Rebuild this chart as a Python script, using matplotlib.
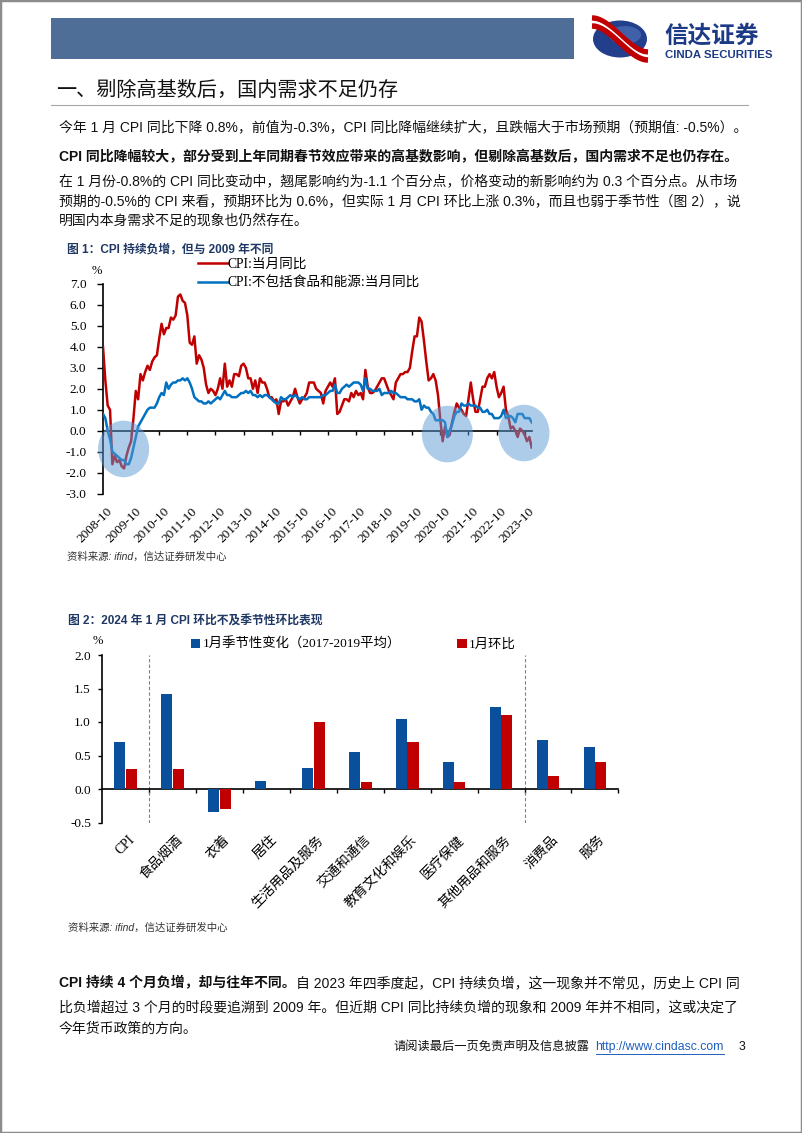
import numpy as np
import matplotlib.pyplot as plt
from matplotlib.patches import Rectangle, Ellipse
from matplotlib.lines import Line2D

W, H = 802, 1133

SANS = ['Liberation Sans', 'Noto Sans CJK SC']
SERIF = ['Liberation Serif', 'Noto Sans CJK SC']
TEXT_C = '#111111'
TITLE_C = '#1f3864'
RED = '#c00000'
BLUE_LINE = '#0070c0'
BLUE_BAR = '#0a4f9c'

# ---- figure 1 data: monthly CPI yoy, 2008-10 .. 2024-01 ----
cpi_yoy = [
    4.0, 2.4, 1.2,
    1.0, -1.6, -1.2, -1.5, -1.4, -1.7, -1.8, -1.2, -0.8, -0.5, 0.6, 1.9,
    1.5, 2.7, 2.4, 2.8, 3.1, 2.9, 3.3, 3.5, 3.6, 4.4, 5.1, 4.6,
    4.9, 4.9, 5.4, 5.3, 5.5, 6.4, 6.5, 6.2, 6.1, 5.5, 4.2, 4.1,
    4.5, 3.2, 3.6, 3.4, 3.0, 2.2, 1.8, 2.0, 1.9, 1.7, 2.0, 2.5,
    2.0, 3.2, 2.1, 2.4, 2.1, 2.7, 2.7, 2.6, 3.1, 3.2, 3.0, 2.5,
    2.5, 2.0, 2.4, 1.8, 2.5, 2.3, 2.3, 2.0, 1.6, 1.6, 1.4, 1.5,
    0.8, 1.4, 1.4, 1.5, 1.2, 1.4, 1.6, 2.0, 1.6, 1.3, 1.5, 1.6,
    1.8, 2.3, 2.3, 2.3, 2.0, 1.9, 1.8, 1.3, 1.9, 2.1, 2.3, 2.1,
    2.5, 0.8, 0.9, 1.2, 1.5, 1.5, 1.4, 1.8, 1.6, 1.9, 1.7, 1.8,
    1.5, 2.9, 2.1, 1.8, 1.8, 1.9, 2.1, 2.3, 2.5, 2.5, 2.2, 1.9,
    1.7, 1.5, 2.3, 2.5, 2.7, 2.7, 2.8, 2.8, 3.0, 3.8, 4.5, 4.5,
    5.4, 5.2, 4.3, 3.3, 2.4, 2.5, 2.7, 2.4, 1.7, 0.5, -0.5, 0.2,
    -0.3, -0.2, 0.4, 0.9, 1.3, 1.1, 1.0, 0.8, 0.7, 1.5, 2.3, 1.5,
    0.9, 0.9, 1.5, 2.1, 2.1, 2.5, 2.7, 2.5, 2.8, 2.1, 1.6, 1.8,
    2.1, 1.0, 0.7, 0.1, 0.2, 0.0, -0.3, 0.1, 0.0, -0.2, -0.5, -0.3,
    -0.8,
]
core_yoy = [
    0.8, 0.6, 0.0,
    -0.4, -1.0, -1.1, -1.2, -1.3, -1.4, -1.4, -1.6, -1.6, -1.3, -0.8, -0.3,
    0.2, 0.4, 0.6, 0.8, 1.0, 1.1, 1.1, 1.1, 1.3, 1.6, 1.8, 1.7,
    2.3, 2.0, 2.2, 2.3, 2.3, 2.4, 2.4, 2.5, 2.4, 2.5, 2.3, 2.0,
    1.6, 1.5, 1.4, 1.4, 1.3, 1.3, 1.4, 1.3, 1.4, 1.5, 1.6, 1.5,
    1.7, 1.9, 1.7, 1.7, 1.6, 1.6, 1.6, 1.7, 1.8, 1.8, 1.9, 1.8,
    1.9, 1.7, 1.7, 1.6, 1.7, 1.6, 1.7, 1.7, 1.6, 1.5, 1.4, 1.3,
    1.3, 1.6, 1.5, 1.5, 1.6, 1.7, 1.6, 1.7, 1.6, 1.5, 1.6, 1.5,
    1.5, 1.6, 1.6, 1.6, 1.6, 1.6, 1.6, 1.7, 1.7, 1.8, 1.9, 1.9,
    2.2, 1.8, 1.8, 2.0, 2.1, 2.2, 2.1, 2.2, 2.3, 2.3, 2.3, 2.2,
    1.9, 2.5, 2.0, 2.0, 1.9, 1.9, 1.9, 2.0, 1.7, 1.8, 1.8, 1.8,
    1.9, 1.8, 1.8, 1.7, 1.6, 1.6, 1.6, 1.5, 1.5, 1.5, 1.4, 1.4,
    1.5, 1.0, 1.2, 1.1, 1.1, 0.9, 0.8, 0.5, 0.5, 0.5, 0.5, 0.4,
    -0.3, 0.0, 0.3, 0.7, 0.9, 0.9, 1.3, 1.2, 1.2, 1.3, 1.2, 1.2,
    1.2, 1.1, 1.1, 0.9, 0.9, 1.0, 0.8, 0.8, 0.6, 0.6, 0.6, 0.7,
    1.0, 0.6, 0.7, 0.7, 0.6, 0.4, 0.8, 0.8, 0.8, 0.6, 0.6, 0.6,
    0.4,
]
line_ticklabels = ['2008-10', '2009-10', '2010-10', '2011-10', '2012-10', '2013-10',
                   '2014-10', '2015-10', '2016-10', '2017-10', '2018-10', '2019-10',
                   '2020-10', '2021-10', '2022-10', '2023-10']
line_labels = ['CPI:当月同比', 'CPI:不包括食品和能源:当月同比']
# highlighted periods (month index of centre)
highlight_months = [8.8, 147.0, 179.7]
highlight_y = [-0.87, -0.16, -0.11]

# ---- figure 2 data ----
categories = ['CPI', '食品烟酒', '衣着', '居住', '生活用品及服务', '交通和通信',
              '教育文化和娱乐', '医疗保健', '其他用品和服务', '消费品', '服务']
seasonal = [0.70, 1.42, -0.35, 0.12, 0.31, 0.55, 1.05, 0.41, 1.22, 0.73, 0.63]
jan_mom = [0.30, 0.30, -0.30, 0.00, 1.00, 0.10, 0.70, 0.10, 1.10, 0.20, 0.40]
bar_labels = ['1月季节性变化（2017-2019平均）', '1月环比']


def fx(x):
    return x / W


def fy(y):
    return 1 - y / H


def axes_px(fig, left, top, right, bottom):
    return fig.add_axes([left / W, 1 - bottom / H, (right - left) / W, (bottom - top) / H])


fig = plt.figure(figsize=(W / 100, H / 100), dpi=100)
fig.patch.set_facecolor('white')

# page frame and header
fig.add_artist(Rectangle((0, 0), 1, 1, transform=fig.transFigure, fill=False,
                         ec='#8c8c8c', lw=2.5))
fig.add_artist(Rectangle((fx(51), fy(59)), (574 - 51) / W, 41 / H,
                         transform=fig.transFigure, fc='#4e6e98', ec='none'))

# logo
fig.add_artist(Ellipse((fx(620), fy(39)), 54 / W, 37 / H, transform=fig.transFigure,
                       fc='#233f8c', ec='none'))
fig.add_artist(Ellipse((fx(625), fy(35)), 32 / W, 18 / H, transform=fig.transFigure,
                       fc='#5a7cc4', ec='none', alpha=0.55))
t = np.linspace(0, 1, 40)
for off, col, w in [(-4, RED, 4.0), (0, 'white', 1.8), (4, RED, 4.0)]:
    sx = 592 + 56 * t
    sy = 22 + 34 * (3 * t ** 2 - 2 * t ** 3) + off
    fig.add_artist(Line2D(fx(sx), fy(sy), transform=fig.transFigure, color=col,
                          lw=w, solid_capstyle='butt'))
fig.text(fx(664), fy(43), '信达证券', fontsize=17, weight='bold', color='#1c3a86',
         family=SANS, va='baseline', ha='left')
fig.text(fx(665), fy(57.5), 'CINDA SECURITIES', fontsize=8.2, weight='bold', color='#1c3a86',
         family=SANS, va='baseline', ha='left')

# section title
fig.text(fx(56), fy(90), '一、剔除高基数后，国内需求不足仍存', fontsize=14.5,
         family=SANS, color=TEXT_C, va='center')
fig.add_artist(Line2D([fx(51), fx(748)], [fy(105), fy(105)], transform=fig.transFigure,
                      color='#a6a6a6', lw=0.8))

BODY = 10.0
fig.text(fx(59), fy(127), '今年 1 月 CPI 同比下降 0.8%，前值为-0.3%，CPI 同比降幅继续扩大，且跌幅大于市场预期（预期值: -0.5%）。',
         fontsize=BODY, family=SANS, color=TEXT_C, va='center')
fig.text(fx(59), fy(157), 'CPI 同比降幅较大，部分受到上年同期春节效应带来的高基数影响，但剔除高基数后，国内需求不足也仍存在。',
         fontsize=BODY, family=SANS, color=TEXT_C, va='center', weight='bold')
fig.text(fx(59), fy(181), '在 1 月份-0.8%的 CPI 同比变动中，翘尾影响约为-1.1 个百分点，价格变动的新影响约为 0.3 个百分点。从市场',
         fontsize=BODY, family=SANS, color=TEXT_C, va='center')
fig.text(fx(59), fy(201), '预期的-0.5%的 CPI 来看，预期环比为 0.6%，但实际 1 月 CPI 环比上涨 0.3%，而且也弱于季节性（图 2），说',
         fontsize=BODY, family=SANS, color=TEXT_C, va='center')
fig.text(fx(59), fy(221), '明国内本身需求不足的现象也仍然存在。',
         fontsize=BODY, family=SANS, color=TEXT_C, va='center')

# ---------------- figure 1 ----------------
fig.text(fx(67), fy(250), '图 1：CPI 持续负增，但与 2009 年不同', fontsize=8.5, weight='bold',
         family=SANS, color=TITLE_C, va='center')
ax1 = axes_px(fig, 103, 284, 531.7, 493.6)
x = np.arange(len(cpi_yoy))
l1, = ax1.plot(x, cpi_yoy, color=RED, lw=1.8, zorder=3)
l2, = ax1.plot(x, core_yoy, color=BLUE_LINE, lw=1.8, zorder=3)
for cx, cy in zip(highlight_months, highlight_y):
    ax1.add_patch(Ellipse((cx, cy), 21.8, 2.7, fc='#5b9bd5', ec='none', alpha=0.5,
                          zorder=4, clip_on=False))
ax1.set_xlim(0, len(cpi_yoy) - 1)
ax1.set_ylim(-3, 7)
ax1.set_yticks(np.arange(-3, 7.1, 1))
ax1.set_yticklabels([f'{v:.1f}' for v in np.arange(-3, 7.1, 1)], family=SERIF, fontsize=9.5)
tick_idx = np.arange(0, len(cpi_yoy), 12)
ax1.set_xticks(tick_idx)
ax1.tick_params(axis='x', labelbottom=False, direction='out', length=3, width=1)
ax1.tick_params(axis='y', direction='out', length=4, width=1, pad=8)
for s in ['top', 'right']:
    ax1.spines[s].set_visible(False)
ax1.spines['bottom'].set_position(('data', 0))
ax1.spines['bottom'].set_linewidth(1.2)
ax1.spines['left'].set_linewidth(1.2)
for ti, lab in zip(tick_idx, line_ticklabels):
    ax1.text(ti + 1.6, -3.55, lab, rotation=45, ha='right', va='top', rotation_mode='anchor',
             family=SERIF, fontsize=9.5)
ax1.legend([l1, l2], line_labels, loc='upper left', bbox_to_anchor=(fx(198), fy(258)),
           bbox_transform=fig.transFigure, frameon=False, prop={'family': SERIF, 'size': 9.8},
           handlelength=2.2, handletextpad=0.0, borderpad=0, borderaxespad=0, labelspacing=0.45)
fig.text(fx(97), fy(271), '%', fontsize=9, family=SERIF, ha='center', va='center')
fig.text(fx(67), fy(557), '资料来源: ifind，信达证券研发中心', fontsize=7.5, style='italic',
         family=SANS, color='#333333', va='center')

# ---------------- figure 2 ----------------
fig.text(fx(68), fy(622), '图 2：2024 年 1 月 CPI 环比不及季节性环比表现', fontsize=8.5, weight='bold',
         family=SANS, color=TITLE_C, va='center')
ax2 = axes_px(fig, 102, 655, 618.4, 822.5)
xc = np.arange(len(categories)) + 0.5
b1 = ax2.bar(xc - 0.125, seasonal, width=0.235, color=BLUE_BAR, zorder=3)
b2 = ax2.bar(xc + 0.125, jan_mom, width=0.235, color=RED, zorder=3)
ax2.set_xlim(0, len(categories))
ax2.set_ylim(-0.5, 2.0)
yt = np.arange(-0.5, 2.01, 0.5)
ax2.set_yticks(yt)
ax2.set_yticklabels([f'{v:.1f}' for v in yt], family=SERIF, fontsize=9.5)
ax2.set_xticks(np.arange(1, len(categories) + 1))
ax2.tick_params(axis='x', labelbottom=False, direction='out', length=3, width=1)
ax2.tick_params(axis='y', direction='out', length=3, width=1, pad=5)
for s in ['top', 'right']:
    ax2.spines[s].set_visible(False)
ax2.spines['bottom'].set_position(('data', 0))
ax2.spines['bottom'].set_linewidth(1.2)
ax2.spines['left'].set_linewidth(1.2)
for bx in [1, 9]:
    ax2.axvline(bx, color='#7f7f7f', ls=(0, (3, 2)), lw=0.8, zorder=2)
for xi, lab in zip(xc, categories):
    ax2.text(xi + 0.07, -0.66, lab, rotation=45, ha='right', va='top', rotation_mode='anchor',
             family=SERIF, fontsize=9.8)
ax2.legend([b1, b2], bar_labels, loc='upper left', bbox_to_anchor=(fx(191), fy(638)),
           bbox_transform=fig.transFigure, frameon=False, ncol=2, prop={'family': SERIF, 'size': 9.6},
           handlelength=0.7, handleheight=0.7, handletextpad=0.2, borderpad=0, borderaxespad=0,
           columnspacing=4.2)
fig.text(fx(98), fy(641), '%', fontsize=9, family=SERIF, ha='center', va='center')
fig.text(fx(68), fy(928), '资料来源: ifind，信达证券研发中心', fontsize=7.5, style='italic',
         family=SANS, color='#333333', va='center')

# ---------------- closing paragraph ----------------
renderer = fig.canvas.get_renderer()
tb = fig.text(fx(59), fy(983), 'CPI 持续 4 个月负增，却与往年不同。', fontsize=BODY, weight='bold',
              family=SANS, color=TEXT_C, va='center')
bb = tb.get_window_extent(renderer)
fig.text(bb.x1 / W, fy(983), '自 2023 年四季度起，CPI 持续负增，这一现象并不常见，历史上 CPI 同',
         fontsize=BODY, family=SANS, color=TEXT_C, va='center')
fig.text(fx(59), fy(1007), '比负增超过 3 个月的时段要追溯到 2009 年。但近期 CPI 同比持续负增的现象和 2009 年并不相同，这或决定了',
         fontsize=BODY, family=SANS, color=TEXT_C, va='center')
fig.text(fx(59), fy(1029), '今年货币政策的方向。', fontsize=BODY, family=SANS, color=TEXT_C, va='center')

# footer
fig.text(fx(745), fy(1047), '3', fontsize=8.8, family=SANS, color=TEXT_C, va='center', ha='right')
tu = fig.text(fx(724), fy(1047), 'http://www.cindasc.com', fontsize=8.8, family=SANS,
              color='#1f5fbf', va='center', ha='right')
ub = tu.get_window_extent(renderer)
fig.add_artist(Line2D([ub.x0 / W, ub.x1 / W], [(ub.y0 - 1) / H, (ub.y0 - 1) / H],
                      transform=fig.transFigure, color='#1f5fbf', lw=0.7))
fig.text(ub.x0 / W - 6 / W, fy(1047), '请阅读最后一页免责声明及信息披露', fontsize=8.8, family=SANS,
         color=TEXT_C, va='center', ha='right')

fig.savefig('out.png', dpi=100)
